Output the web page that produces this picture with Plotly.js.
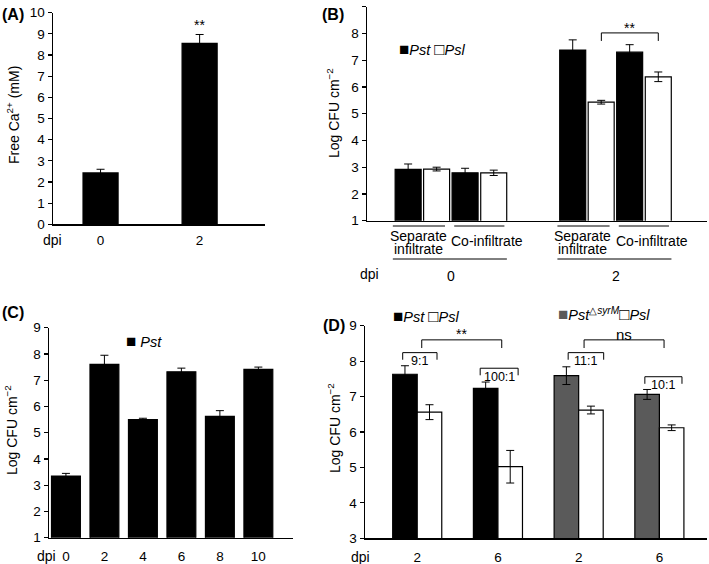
<!DOCTYPE html>
<html>
<head>
<meta charset="utf-8">
<script src="https://cdn.plot.ly/plotly-3.0.1.min.js"></script>
<style>
  html, body { margin: 0; padding: 0; background: #fff; }
  #chart { width: 709px; height: 564px; }
</style>
</head>
<body>
<div id="chart"></div>
<script>
// panel A: free Ca2+
const aDpi = ['0', '2']
const aCa = [2.43, 8.55]
const aCaErr = [0.17, 0.42]

// panel B: separate vs co-infiltrate
const bDpi = ['0', '2']
const bPstSep = [2.92, 7.38]
const bPstSepErr = [0.2, 0.38]
const bPslSep = [2.93, 5.43]
const bPslSepErr = [0.07, 0.07]
const bPstCo = [2.79, 7.30]
const bPstCoErr = [0.17, 0.28]
const bPslCo = [2.79, 6.38]
const bPslCoErr = [0.1, 0.18]

// panel C: Pst time course
const cDpi = ['0', '2', '4', '6', '8', '10']
const cPst = [3.35, 7.6, 5.5, 7.32, 5.62, 7.41]
const cPstErr = [0.1, 0.35, 0.05, 0.14, 0.22, 0.09]

// panel D: Pst / PstΔsyrM with Psl
const dGroups = ['Pst 2', 'Pst 6', 'syrM 2', 'syrM 6']
const dDpi = ['2', '6', '2', '6']
const dPst = [7.63, 7.23]
const dPstErr = [0.24, 0.18]
const dSyrM = [7.59, 7.06]
const dSyrMErr = [0.25, 0.14]
const dPsl = [6.56, 5.02, 6.62, 6.12]
const dPslErr = [0.21, 0.46, 0.11, 0.08]
const dRatios = ['9:1', '100:1', '11:1', '10:1']

const W = 709, H = 564
const px = x => x / W
const py = y => 1 - y / H

const FONT = 'Liberation Sans, Arial, sans-serif'
const GRAY = '#5a5a5a'

function errs(arr) {
    return {type: 'data', array: arr, visible: true, color: '#000', thickness: 1, width: 4}
}

function bars(x, y, err, color, xa, ya, width, offset) {
    const t = {
        type: 'bar', x: x, y: y, xaxis: xa, yaxis: ya,
        marker: {color: color, line: {color: '#000', width: 1.2}},
        error_y: errs(err),
        width: width,
        showlegend: false,
        hoverinfo: 'skip'
    }
    if (offset !== undefined) t.offset = offset
    return t
}

const data = [
    bars(aDpi, aCa, aCaErr, '#000', 'x', 'y', 0.354),

    bars(bDpi, bPstSep, bPstSepErr, '#000', 'x2', 'y2', 0.158, -0.339),
    bars(bDpi, bPslSep, bPslSepErr, '#fff', 'x2', 'y2', 0.158, -0.166),
    bars(bDpi, bPstCo, bPstCoErr, '#000', 'x2', 'y2', 0.158, 0.007),
    bars(bDpi, bPslCo, bPslCoErr, '#fff', 'x2', 'y2', 0.158, 0.181),

    bars(cDpi, cPst, cPstErr, '#000', 'x3', 'y3', 0.75),

    bars(dGroups.slice(0, 2), dPst, dPstErr, '#000', 'x4', 'y4', 0.304, -0.304),
    bars(dGroups.slice(2, 4), dSyrM, dSyrMErr, GRAY, 'x4', 'y4', 0.304, -0.304),
    bars(dGroups, dPsl, dPslErr, '#fff', 'x4', 'y4', 0.304, 0)
]

// x ticks are drawn transparent, only to push the labels down
const xBase = {
    type: 'category', showline: true, linecolor: '#000', linewidth: 1.5,
    ticks: 'outside', tickcolor: 'rgba(0,0,0,0)', showgrid: false, zeroline: false, fixedrange: true,
    tickfont: {family: FONT, size: 13.5, color: '#000'}
}
const yBase = {
    showline: true, linecolor: '#000', linewidth: 1.5,
    ticks: 'outside', ticklen: 4, tickwidth: 1.2, tickcolor: '#000',
    showgrid: false, zeroline: false, dtick: 1, fixedrange: true,
    tickfont: {family: FONT, size: 13.5, color: '#000'}
}

const annotations = []
const shapes = []

function txt(x, y, text, opts) {
    annotations.push(Object.assign({
        x: x, y: y, xref: 'paper', yref: 'paper', text: text, showarrow: false,
        font: {family: FONT, size: 14, color: '#000'}, xanchor: 'center', yanchor: 'middle'
    }, opts || {}))
}

function line(xref, yref, x0, x1, y0, y1) {
    shapes.push({type: 'line', xref: xref, yref: yref, x0: x0, x1: x1, y0: y0, y1: y1,
        line: {color: '#000', width: 1}})
}

// bracket on an axis pair: top at yTop, ends down to yEnd
function bracket(xa, ya, x0, x1, yTop, yEnd) {
    line(xa, ya, x0, x1, yTop, yTop)
    line(xa, ya, x0, x0, yTop, yEnd)
    line(xa, ya, x1, x1, yTop, yEnd)
}

// panel letters
const bold = {family: FONT, size: 16, color: '#000', weight: 'bold'}
txt(px(0), py(15), '<b>(A)</b>', {xanchor: 'left', font: bold})
txt(px(320), py(15), '<b>(B)</b>', {xanchor: 'left', font: bold})
txt(px(0), py(312), '<b>(C)</b>', {xanchor: 'left', font: bold})
txt(px(321), py(325), '<b>(D)</b>', {xanchor: 'left', font: bold})

// y titles
txt(px(13), py(115), 'Free Ca<sup>2+</sup> (mM)', {textangle: -90})
txt(px(333), py(113), 'Log CFU cm<sup>−2</sup>', {textangle: -90})
txt(px(11), py(430), 'Log CFU cm<sup>−2</sup>', {textangle: -90})
txt(px(334), py(428), 'Log CFU cm<sup>−2</sup>', {textangle: -90})

// dpi row labels
txt(px(53), py(240), 'dpi')
txt(px(369), py(274), 'dpi')
txt(px(47), py(556), 'dpi')
txt(px(360), py(557), 'dpi')

// A significance
annotations.push({x: 1, y: 9.42, xref: 'x', yref: 'y', text: '**', showarrow: false,
    font: {family: FONT, size: 14, color: '#000'}})

// B x labels and underlines
bDpi.forEach((d, i) => {
    const sub = {xref: 'x2', yref: 'paper', showarrow: false,
        font: {family: FONT, size: 14, color: '#000'}}
    annotations.push(Object.assign({x: i - 0.2, y: py(235.5), text: 'Separate'}, sub))
    annotations.push(Object.assign({x: i - 0.2, y: py(249.5), text: 'infiltrate'}, sub))
    annotations.push(Object.assign({x: i + 0.222, y: py(241), text: 'Co-infiltrate'}, sub))
    annotations.push(Object.assign({x: i, y: py(276), text: d}, sub))
    line('x2', 'paper', i - 0.353, i - 0.036, py(226), py(226))
    line('x2', 'paper', i + 0.02, i + 0.325, py(226), py(226))
    line('x2', 'paper', i - 0.353, i + 0.34, py(259), py(259))
})
bracket('x2', 'y2', 0.914, 1.26, 8.02, 7.72)
annotations.push({x: 1.087, y: 8.22, xref: 'x2', yref: 'y2', text: '**', showarrow: false,
    font: {family: FONT, size: 14, color: '#000'}})

// legends
const legFont = {family: FONT, size: 14.5, color: '#000'}
const sq = (c, g) => '<span style="font-size:17px;color:' + c + '">' + g + '</span>'
txt(px(397), py(50), sq('#000', '■') + '<i>Pst</i> ' + sq('#000', '□') + '<i>Psl</i>',
    {xanchor: 'left', font: legFont})
txt(px(124), py(341), sq('#000', '■') + ' <i>Pst</i>', {xanchor: 'left', font: legFont})
txt(px(391), py(316), sq('#000', '■') + '<i>Pst</i> ' + sq('#000', '□') + '<i>Psl</i>',
    {xanchor: 'left', font: legFont})
txt(px(556), py(315), sq(GRAY, '■') + '<i>Pst</i><sup>△<i>syrM</i></sup>' + sq('#000', '□') + '<i>Psl</i>',
    {xanchor: 'left', font: legFont})

// D ratio brackets
const ratioSpan = [[-0.18, 0.245], [-0.22, 0.25], [-0.13, 0.31], [-0.18, 0.28]]
const ratioTop = [8.24, 7.8, 8.24, 7.56]
dRatios.forEach((r, i) => {
    const [a, b] = ratioSpan[i]
    bracket('x4', 'y4', i + a, i + b, ratioTop[i], ratioTop[i] - 0.2)
    annotations.push({x: i + (a + b) / 2, y: ratioTop[i] - 0.24, xref: 'x4', yref: 'y4',
        text: r, showarrow: false, font: {family: FONT, size: 12.5, color: '#000'}})
})
bracket('x4', 'y4', 0.056, 1.047, 8.6, 8.37)
bracket('x4', 'y4', 2.067, 3.058, 8.6, 8.37)
annotations.push({x: 0.55, y: 8.76, xref: 'x4', yref: 'y4', text: '**', showarrow: false,
    font: {family: FONT, size: 14, color: '#000'}})
annotations.push({x: 2.56, y: 8.76, xref: 'x4', yref: 'y4', text: 'ns', showarrow: false,
    font: {family: FONT, size: 15, color: '#000'}})

const layout = {
    width: W, height: H,
    margin: {l: 0, r: 0, t: 0, b: 0},
    paper_bgcolor: '#fff', plot_bgcolor: 'rgba(0,0,0,0)',
    barmode: 'overlay',
    showlegend: false,
    font: {family: FONT, size: 14, color: '#000'},

    xaxis: Object.assign({}, xBase, {domain: [px(53), px(265)], anchor: 'y',
        range: [-0.48, 1.66], categoryarray: aDpi, ticklen: 3}),
    yaxis: Object.assign({}, yBase, {domain: [py(224.3), py(12.7)], anchor: 'x', range: [0, 10]}),

    xaxis2: Object.assign({}, xBase, {domain: [px(367), px(707)], anchor: 'y2',
        range: [-0.51, 1.556], categoryarray: bDpi, showticklabels: false, ticks: ''}),
    yaxis2: Object.assign({}, yBase, {domain: [py(220.7), py(6.7)], anchor: 'x2', range: [1, 9]}),

    xaxis3: Object.assign({}, xBase, {domain: [px(49), px(293)], anchor: 'y3',
        range: [-0.44, 5.9], categoryarray: cDpi, ticklen: 6}),
    yaxis3: Object.assign({}, yBase, {domain: [py(537.7), py(327.7)], anchor: 'x3', range: [1, 9]}),

    xaxis4: Object.assign({}, xBase, {domain: [px(365), px(707)], anchor: 'y4',
        range: [-0.647, 3.59], categoryarray: dGroups, tickvals: dGroups, ticktext: dDpi,
        ticklen: 6}),
    yaxis4: Object.assign({}, yBase, {domain: [py(538.3), py(325.7)], anchor: 'x4', range: [3, 9]}),

    annotations: annotations,
    shapes: shapes
}

Plotly.newPlot('chart', data, layout, {displayModeBar: false, staticPlot: true})
</script>
</body>
</html>
